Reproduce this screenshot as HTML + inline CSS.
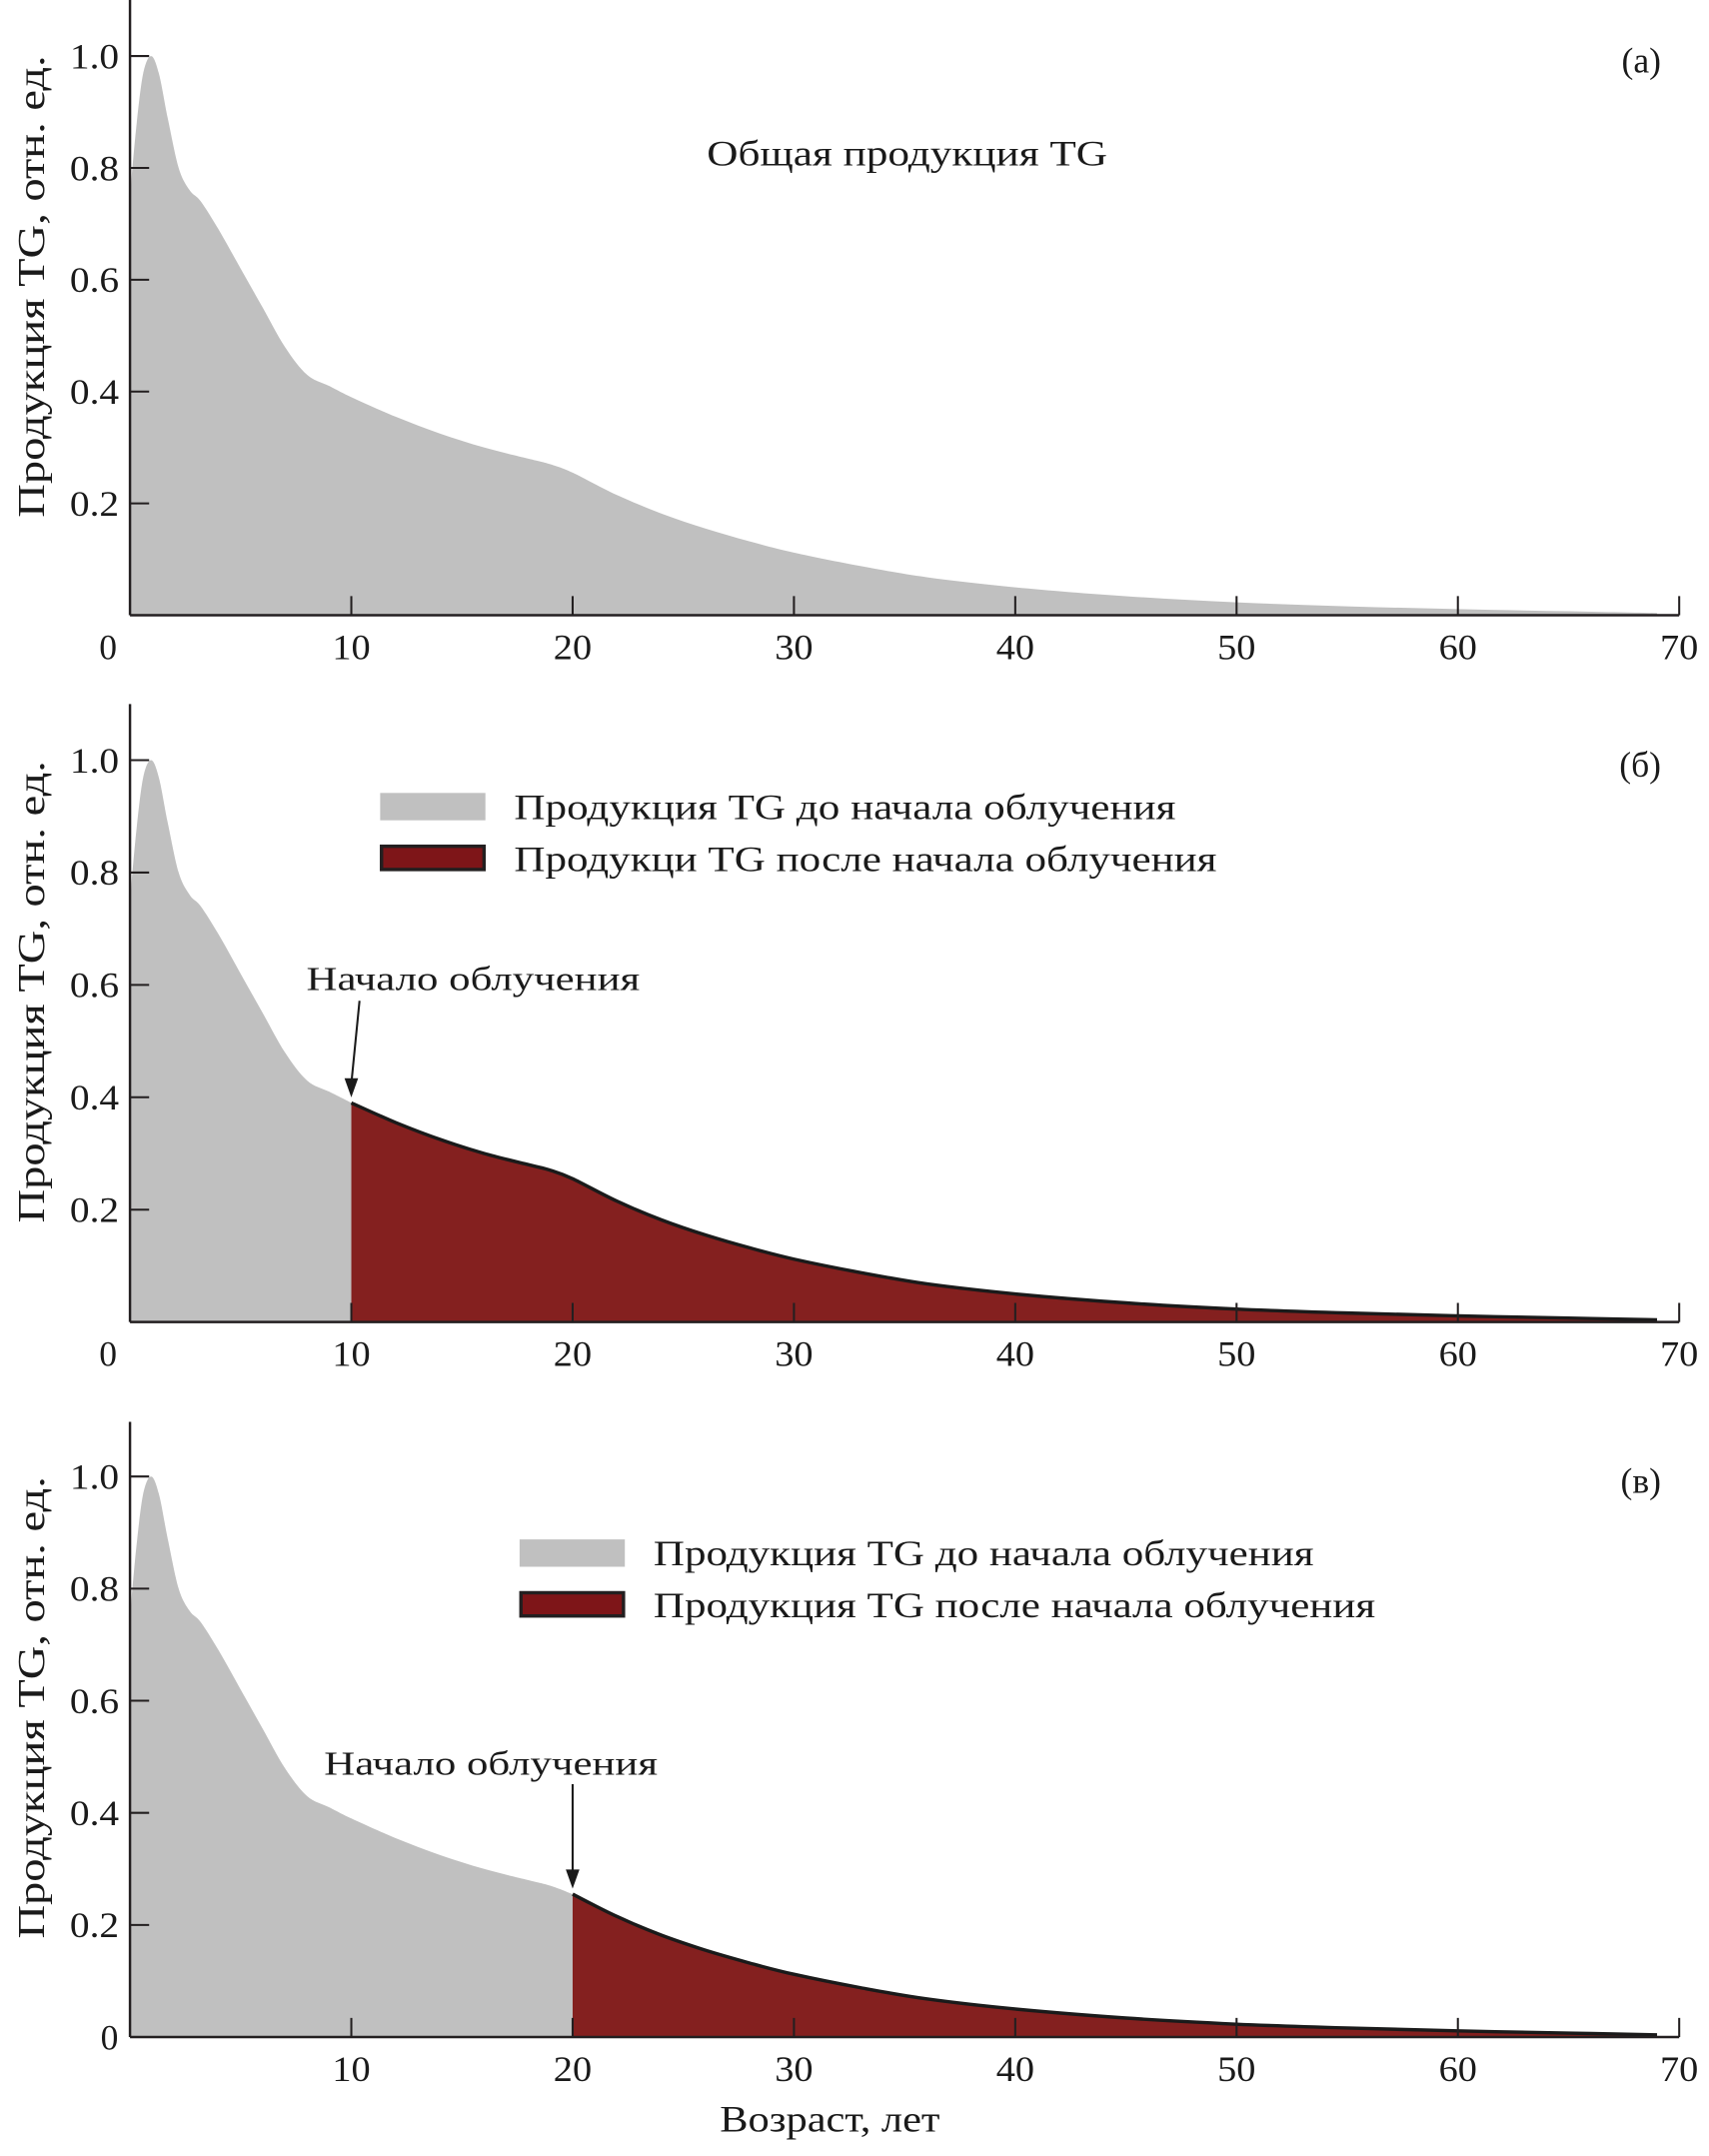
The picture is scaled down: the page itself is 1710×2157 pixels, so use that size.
<!DOCTYPE html>
<html><head><meta charset="utf-8"><style>
html,body{margin:0;padding:0;background:#fff}
svg{display:block;font-family:"Liberation Serif",serif;}
</style></head><body>
<svg id="chart" width="1710" height="2157" viewBox="0 0 1250 1577" xmlns="http://www.w3.org/2000/svg"></svg>
<script>
const ages=[0,0.3,0.6,0.95,1.3,1.7,2.2,2.7,3.2,4,5,6,7,8,9,10,12,14,16,18,19,20,22,24,26,28,30,33,36,40,45,50,55,60,65,69];
const production=[0.75,0.88,0.97,1.0,0.97,0.89,0.8,0.76,0.74,0.69,0.62,0.55,0.48,0.43,0.41,0.39,0.355,0.325,0.3,0.28,0.27,0.255,0.215,0.182,0.155,0.132,0.112,0.088,0.068,0.05,0.034,0.023,0.016,0.011,0.007,0.004];
const xTicks=[0,10,20,30,40,50,60,70];
const yTicks=[0.2,0.4,0.6,0.8,1.0];
const panelStart=[null,10,20];
const panelLetters=["(а)","(б)","(в)"];
const legendLabels=[null,["Продукция TG до начала облучения","Продукци TG после начала облучения"],["Продукция TG до начала облучения","Продукция TG после начала облучения"]];
const legendWidths=[null,[484,514],[483,528]];

const NS="http://www.w3.org/2000/svg";
const svg=document.getElementById('chart');
const panels=[{top:0,zero:450,one:41,legX:278,legY:580,annX:224,annY:716,arrTop:732},
              {top:515,zero:967,one:556,legX:278,legY:580,annX:224,annY:716,arrTop:732},
              {top:1040,zero:1490,one:1080,legX:380,legY:1126,annX:237,annY:1290,arrTop:1305}];
const X0=95,XPER=16.19;
function sx(v){return X0+v*XPER;}
function mk(tag,attrs,parent){const e=document.createElementNS(NS,tag);for(const k in attrs)e.setAttribute(k,attrs[k]);(parent||svg).appendChild(e);return e;}
function interp(x){for(let i=0;i<ages.length-1;i++){if(x>=ages[i]&&x<=ages[i+1]){const t=(x-ages[i])/(ages[i+1]-ages[i]);return production[i]+t*(production[i+1]-production[i]);}}return production[production.length-1];}
function spline(pts){let d='';for(let i=0;i<pts.length-1;i++){const p0=pts[Math.max(0,i-1)],p1=pts[i],p2=pts[i+1],p3=pts[Math.min(pts.length-1,i+2)];
  const c1=[p1[0]+(p2[0]-p0[0])/6,p1[1]+(p2[1]-p0[1])/6],c2=[p2[0]-(p3[0]-p1[0])/6,p2[1]-(p3[1]-p1[1])/6];
  d+=` C${c1[0].toFixed(1)},${c1[1].toFixed(1)} ${c2[0].toFixed(1)},${c2[1].toFixed(1)} ${p2[0].toFixed(1)},${p2[1].toFixed(1)}`;}return d;}
function txt(parent,x,y,s,size,w,extra){const a=Object.assign({x:x,y:y,'font-size':size,fill:'#1a1a1a'},extra||{});if(w){a.textLength=w;a.lengthAdjust='spacingAndGlyphs';}const t=mk('text',a,parent);t.textContent=s;return t;}

panels.forEach((p,pi)=>{
  const g=mk('g',{});
  
  
  const sy=v=>p.zero-(p.zero-p.one)*v;
  const start=panelStart[pi];
  let pts=[];
  for(let i=0;i<ages.length;i++){if(start===null||ages[i]<start)pts.push([sx(ages[i]),sy(production[i])]);}
  if(start!==null)pts.push([sx(start),sy(interp(start))]);
  let d='M'+sx(0)+','+p.zero+' L'+pts[0][0]+','+pts[0][1].toFixed(1)+spline(pts)+' L'+pts[pts.length-1][0].toFixed(1)+','+p.zero+'Z';
  const gray=mk('path',{d:d,fill:'#c0c0c0'},g);
  
  
  if(start!==null){
    let rp=[[sx(start),sy(interp(start))]];
    for(let i=0;i<ages.length;i++)if(ages[i]>start)rp.push([sx(ages[i]),sy(production[i])]);
    const line='M'+rp[0][0].toFixed(1)+','+rp[0][1].toFixed(1)+spline(rp);
    const red=mk('path',{d:line+' L'+rp[rp.length-1][0].toFixed(1)+','+p.zero+' L'+sx(start)+','+p.zero+'Z',fill:'#84201f'},g);
    
    
    mk('path',{d:line,fill:'none',stroke:'#1a1a1a','stroke-width':2.5},g);
    const t=txt(g,p.annX,p.annY+8,'Начало облучения',25,244);
    
    
    const ax=sx(start),ay=sy(interp(start))-4;
    const ax0=pi===1?ax+6:ax;
    mk('line',{x1:ax0,y1:p.arrTop,x2:ax,y2:ay-10,stroke:'#1a1a1a','stroke-width':1.5},g);
    mk('path',{d:`M${ax},${ay} L${ax-5},${ay-14} L${ax+5},${ay-14}Z`,fill:'#1a1a1a'},g);
    const lg=legendLabels[pi],lw=legendWidths[pi];
    const r1=mk('rect',{x:p.legX,y:p.legY,width:77,height:20,fill:'#c0c0c0'},g);
    
    
    const r2=mk('rect',{x:p.legX+1,y:p.legY+39,width:75,height:17,fill:'#7e1518',stroke:'#231f20','stroke-width':2.5},g);
    
    
    const l1=txt(g,p.legX+98,p.legY+19,lg[0],26,lw[0]);
    
    
    const l2=txt(g,p.legX+98,p.legY+57,lg[1],26,lw[1]);
    
    
  } else {
    const t=txt(g,517,121,'Общая продукция TG',26,293);
    
    
  }
  mk('line',{x1:X0,y1:p.top,x2:X0,y2:p.zero,stroke:'#231f20','stroke-width':1.8},g);
  mk('line',{x1:X0,y1:p.zero,x2:sx(70),y2:p.zero,stroke:'#231f20','stroke-width':1.8},g);
  xTicks.forEach(v=>{
    if(v>0)mk('line',{x1:sx(v),y1:p.zero,x2:sx(v),y2:p.zero-14,stroke:'#231f20','stroke-width':1.5},g);
    if(pi===2&&v===0)return;
    const t=txt(g,sx(v)+(v===0?-16:0),p.zero+32,String(v),26,v===0?0:28,{'text-anchor':'middle'});
    
    
  });
  if(pi===2){const t=txt(g,80,p.zero+9,'0',26,0,{'text-anchor':'middle'});
    
    }
  yTicks.forEach(v=>{
    mk('line',{x1:X0,y1:sy(v),x2:X0+14,y2:sy(v),stroke:'#231f20','stroke-width':1.5},g);
    const t=txt(g,X0-8,sy(v)+9,v.toFixed(1),26,36,{'text-anchor':'end'});
    
    
  });
  const cy=(p.one+p.zero)/2-36;
  const yl=txt(g,0,0,'Продукция TG, отн. ед.',28,338,{'text-anchor':'middle',transform:`translate(32,${cy}) rotate(-90)`});
  
  
  const pl=txt(g,1215,p.one+12,panelLetters[pi],26,0,{'text-anchor':'end'});
  
  
});
const xl=txt(svg,607,1559,'Возраст, лет',27,161,{'text-anchor':'middle'});


</script>
</body></html>
